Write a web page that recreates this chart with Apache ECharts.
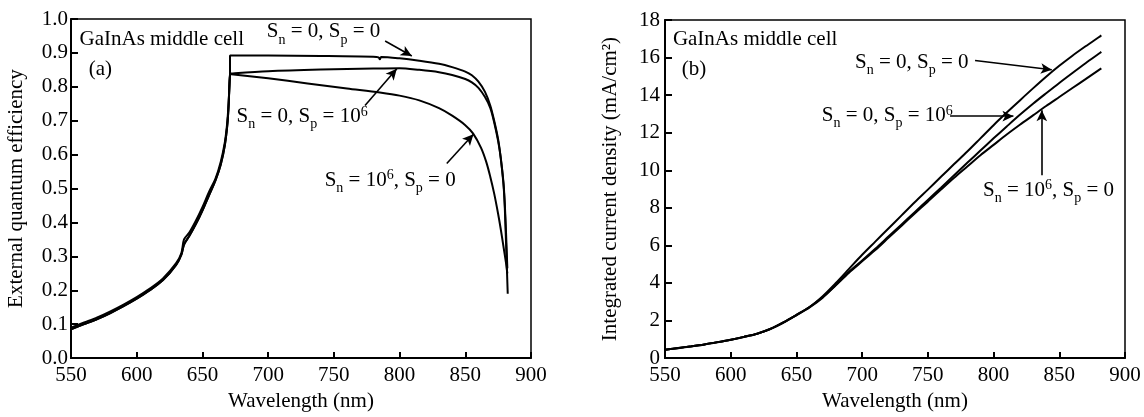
<!DOCTYPE html>
<html>
<head>
<meta charset="utf-8">
<script src="https://cdn.jsdelivr.net/npm/echarts@6/dist/echarts.min.js"></script>
<style>
  html, body { margin: 0; padding: 0; background: #fff; }
  #chart { width: 1144px; height: 417px; }
</style>
</head>
<body>
<div id="chart"></div>
<script>
// (a) External quantum efficiency, shared rise from 550 to 671 nm
const riseWl = [550, 560, 570, 580, 590, 600, 610, 620, 630, 634, 636, 640, 645, 650, 655, 660, 664, 667, 669, 670, 671];
const riseUpper = [0.09, 0.105, 0.12, 0.138, 0.158, 0.18, 0.205, 0.235, 0.28, 0.31, 0.35, 0.37, 0.405, 0.445, 0.49, 0.53, 0.58, 0.635, 0.70, 0.76, 0.842];
const riseLower = [0.085, 0.10, 0.115, 0.133, 0.153, 0.175, 0.20, 0.23, 0.275, 0.305, 0.335, 0.36, 0.395, 0.435, 0.48, 0.525, 0.572, 0.627, 0.69, 0.75, 0.838];

// (a) plateau and band-edge drop
const eqeTailA = [[671, 0.892], [672, 0.892], [700, 0.892], [740, 0.891], [780, 0.889], [784, 0.887], [785, 0.881], [786, 0.888], [800, 0.884], [815, 0.877], [830, 0.868], [840, 0.858], [850, 0.845], [855, 0.834], [860, 0.815], [865, 0.785], [869, 0.745], [872, 0.70], [875, 0.645], [877, 0.59], [879, 0.52], [880, 0.46], [881, 0.37], [882, 0.265]];
const eqeTailB = [[672, 0.839], [700, 0.846], [740, 0.851], [780, 0.854], [800, 0.855], [815, 0.85], [830, 0.843], [840, 0.835], [850, 0.823], [855, 0.813], [860, 0.797], [865, 0.77], [869, 0.738], [872, 0.695], [875, 0.64], [877, 0.59], [879, 0.515], [880, 0.45], [881, 0.34], [882.3, 0.19]];
const eqeTailC = [[672, 0.837], [700, 0.825], [730, 0.81], [760, 0.795], [785, 0.783], [800, 0.774], [815, 0.76], [830, 0.737], [840, 0.715], [850, 0.687], [856, 0.662], [862, 0.62], [866, 0.578], [869, 0.535], [872, 0.485], [875, 0.425], [877, 0.38], [879, 0.33], [881, 0.28], [882, 0.25]];

// (b) Integrated current density
const jWl = [550, 560, 570, 580, 590, 600, 610, 620, 630, 640, 650, 660, 670, 680, 690, 700, 710, 720, 730, 740, 750, 760, 770, 780, 790, 800, 810, 820, 830, 840, 850, 860, 870, 880, 882];
const jUpper = [0.45, 0.54, 0.63, 0.73, 0.85, 0.98, 1.13, 1.3, 1.55, 1.9, 2.3, 2.72, 3.3, 4.0, 4.75, 5.5, 6.2, 6.9, 7.6, 8.3, 8.97, 9.65, 10.33, 11.0, 11.7, 12.4, 13.07, 13.72, 14.36, 14.98, 15.56, 16.1, 16.6, 17.08, 17.18];
const jMiddle = [0.45, 0.54, 0.63, 0.73, 0.85, 0.98, 1.13, 1.3, 1.55, 1.9, 2.3, 2.72, 3.25, 3.9, 4.6, 5.2, 5.82, 6.47, 7.12, 7.77, 8.42, 9.07, 9.74, 10.4, 11.05, 11.7, 12.33, 12.95, 13.54, 14.1, 14.65, 15.18, 15.7, 16.2, 16.3];
const jLower = [0.44, 0.53, 0.62, 0.72, 0.84, 0.97, 1.12, 1.29, 1.54, 1.88, 2.28, 2.7, 3.22, 3.88, 4.55, 5.15, 5.75, 6.4, 7.05, 7.7, 8.33, 8.97, 9.6, 10.2, 10.8, 11.35, 11.9, 12.42, 12.92, 13.42, 13.9, 14.38, 14.85, 15.33, 15.42];

// Label texts
const txtCell = 'GaInAs middle cell';
const txt00 = '{t|S}{sub|n}{t| = 0, S}{sub|p}{t| = 0}';
const txt0p6 = '{t|S}{sub|n}{t| = 0, S}{sub|p}{t| = 10}{sup|6}';
const txt6p0 = '{t|S}{sub|n}{t| = 10}{sup|6}{t|, S}{sub|p}{t| = 0}';

// Annotations in data coordinates
const labelsA = [
    { text: txtCell, at: [556.5, 0.94] },
    { text: '(a)', at: [563.5, 0.852] },
    { text: txt00, at: [699, 0.962] },
    { text: txt0p6, at: [676, 0.712] },
    { text: txt6p0, at: [743, 0.525] }
];
const arrowsA = [
    [[789, 0.935], [809.3, 0.891]],
    [[773.7, 0.745], [797.9, 0.853]],
    [[835.9, 0.574], [856.2, 0.66]]
];
const labelsB = [
    { text: txtCell, at: [556, 16.95] },
    { text: '(b)', at: [562.7, 15.36] },
    { text: txt00, at: [694.6, 15.73] },
    { text: txt0p6, at: [669.3, 12.9] },
    { text: txt6p0, at: [792, 8.94] }
];
const arrowsB = [
    [[785.9, 15.84], [844.3, 15.35]],
    [[766.9, 12.88], [815.1, 12.88]],
    [[836.7, 9.73], [836.7, 13.2]]
];

const FONT = 'Liberation Serif';
const FS = 21;

const rich = {
    t: { fontSize: FS, fontFamily: FONT, color: '#000', lineHeight: 30, verticalAlign: 'middle' },
    sub: { fontSize: 14, fontFamily: FONT, color: '#000', verticalAlign: 'bottom' },
    sup: { fontSize: 14, fontFamily: FONT, color: '#000', verticalAlign: 'middle', padding: [0, 0, 9, 0] }
};

function zip(xs, ys) {
    return xs.map((x, i) => [x, ys[i]]);
}

function buildMarkPoint(labels) {
    return {
        symbol: 'circle',
        symbolSize: 0,
        silent: true,
        animation: false,
        label: {
            show: true,
            position: 'inside',
            align: 'left',
            verticalAlign: 'middle',
            color: '#000',
            fontFamily: FONT,
            fontSize: FS,
            rich: rich
        },
        data: labels.map(l => ({
            coord: l.at,
            label: { formatter: l.text.startsWith('{') ? l.text : '{t|' + l.text + '}' }
        }))
    };
}

function buildMarkLine(arrows) {
    return {
        silent: true,
        animation: false,
        symbol: ['none', 'arrow'],
        symbolSize: [8, 11],
        lineStyle: { color: '#000', width: 1.6, type: 'solid' },
        label: { show: false },
        emphasis: { disabled: true },
        data: arrows.map(a => [{ coord: a[0] }, { coord: a[1] }])
    };
}

function lineSeries(data, xi, yi, extra) {
    return Object.assign({
        type: 'line',
        xAxisIndex: xi,
        yAxisIndex: yi,
        data: data,
        symbol: 'none',
        smooth: 0.3,
        silent: true,
        lineStyle: { color: '#000', width: 2 }
    }, extra || {});
}

function xAxisCfg(gi) {
    return {
        type: 'value',
        gridIndex: gi,
        min: 550,
        max: 900,
        interval: 50,
        name: 'Wavelength (nm)',
        nameLocation: 'middle',
        nameGap: 31,
        nameTextStyle: { fontFamily: FONT, fontSize: FS, color: '#000' },
        axisLine: { show: true, onZero: false, lineStyle: { color: '#000', width: 2 } },
        axisTick: { show: true, inside: true, length: 6, lineStyle: { color: '#000', width: 2 } },
        axisLabel: { fontFamily: FONT, fontSize: FS, color: '#000', margin: 7 },
        splitLine: { show: false }
    };
}

const chart = echarts.init(document.getElementById('chart'), null, { renderer: 'canvas' });

const curveA = zip(riseWl, riseUpper).concat(eqeTailA);
const curveB = zip(riseWl, riseLower).concat(eqeTailB);
const curveC = zip(riseWl, riseLower).concat(eqeTailC);

const option = {
    backgroundColor: '#fff',
    animation: false,
    grid: [
        { left: 71, right: 613, top: 19, bottom: 56, show: true, borderColor: '#000', borderWidth: 1.5, backgroundColor: 'transparent' },
        { left: 665, right: 19, top: 20, bottom: 56, show: true, borderColor: '#000', borderWidth: 1.5, backgroundColor: 'transparent' }
    ],
    xAxis: [xAxisCfg(0), xAxisCfg(1)],
    yAxis: [
        {
            type: 'value',
            gridIndex: 0,
            min: 0,
            max: 1,
            interval: 0.1,
            name: 'External quantum efficiency',
            nameLocation: 'middle',
            nameGap: 44,
            nameTextStyle: { fontFamily: FONT, fontSize: FS, color: '#000' },
            axisLine: { show: true, onZero: false, lineStyle: { color: '#000', width: 2 } },
            axisTick: { show: true, inside: true, length: 7, lineStyle: { color: '#000', width: 2 } },
            axisLabel: { fontFamily: FONT, fontSize: FS, color: '#000', margin: 3, formatter: v => v.toFixed(1) },
            splitLine: { show: false }
        },
        {
            type: 'value',
            gridIndex: 1,
            min: 0,
            max: 18,
            interval: 2,
            name: 'Integrated current density (mA/cm²)',
            nameLocation: 'middle',
            nameGap: 44,
            nameTextStyle: { fontFamily: FONT, fontSize: FS, color: '#000' },
            axisLine: { show: true, onZero: false, lineStyle: { color: '#000', width: 2 } },
            axisTick: { show: true, inside: true, length: 7, lineStyle: { color: '#000', width: 2 } },
            axisLabel: { fontFamily: FONT, fontSize: FS, color: '#000', margin: 5 },
            splitLine: { show: false }
        }
    ],
    series: [
        lineSeries(curveA, 0, 0, { markPoint: buildMarkPoint(labelsA), markLine: buildMarkLine(arrowsA) }),
        lineSeries(curveB, 0, 0),
        lineSeries(curveC, 0, 0),
        lineSeries(zip(jWl, jUpper), 1, 1, { markPoint: buildMarkPoint(labelsB), markLine: buildMarkLine(arrowsB) }),
        lineSeries(zip(jWl, jMiddle), 1, 1),
        lineSeries(zip(jWl, jLower), 1, 1)
    ]
};

chart.setOption(option);
</script>
</body>
</html>
